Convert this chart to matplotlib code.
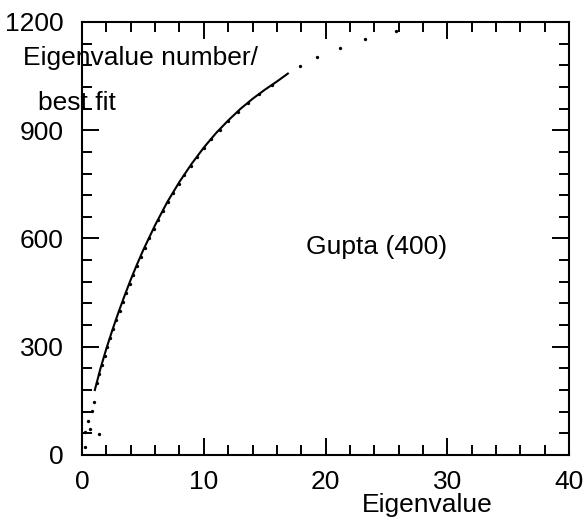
import matplotlib
matplotlib.use("Agg")
from matplotlib import pyplot as plt
from matplotlib.ticker import MultipleLocator

plt.rcParams['font.family'] = ['Liberation Sans', 'DejaVu Sans']

# best fit line
fit_x = [1.05, 1.5, 2, 2.5, 3, 3.5, 4, 4.5, 5, 6, 7, 8, 9, 10, 11, 12, 13, 14, 15, 16, 16.9]
fit_y = [180, 238, 295, 347, 396, 442, 486, 527, 566, 637, 701, 757, 807, 852, 892, 927, 959, 987, 1012, 1035, 1057]

# eigenvalue number (dots)
eig_x = [0.25, 0.25, 0.66, 1.43, 0.52, 0.8, 0.99,
         1.19, 1.41, 1.63, 1.86, 2.09, 2.33, 2.57, 2.82, 3.08, 3.35, 3.63, 3.92,
         4.22, 4.53, 4.85, 5.18, 5.52, 5.88, 6.25, 6.64, 7.05, 7.48, 7.93,
         8.41, 8.92, 9.45, 10.02, 10.63, 11.29, 12.0, 12.77, 13.63, 14.57,
         15.63, 17.9, 19.3, 21.2, 23.2, 25.8]
eig_y = [22, 64, 73, 57, 95, 122, 148,
         200, 225, 250, 275, 300, 325, 350, 375, 400, 425, 450, 475,
         500, 525, 550, 575, 600, 625, 650, 675, 700, 725, 750,
         775, 800, 825, 850, 875, 900, 925, 950, 975, 1000,
         1025, 1078, 1104, 1127, 1153, 1176]

x_ticks = [0, 10, 20, 30, 40]
y_ticks = [0, 300, 600, 900, 1200]

fig = plt.figure(figsize=(5.88, 5.21), dpi=100)
ax = fig.add_axes([0.1395, 0.1267, 0.8285, 0.8311])

ax.plot(fit_x, fit_y, color='black', lw=1.5)
ax.plot(eig_x, eig_y, 'o', color='black', ms=2.4, mew=0)

ax.set_xlim(0, 40)
ax.set_ylim(0, 1200)
ax.set_xticks(x_ticks)
ax.set_yticks(y_ticks)
ax.xaxis.set_minor_locator(MultipleLocator(2))
ax.yaxis.set_minor_locator(MultipleLocator(60))
ax.tick_params(which='both', direction='in', top=True, right=True, width=1.4, labelsize=19)
ax.tick_params(axis='x', which='major', length=12, pad=11)
ax.tick_params(axis='y', which='major', length=12, pad=13)
ax.tick_params(which='minor', length=7)
for s in ax.spines.values():
    s.set_linewidth(1.5)

ax.set_xlabel('Eigenvalue', fontsize=19)
ax.xaxis.set_label_coords(0.708, -0.115)
ax.xaxis.label.set_va('center')

fig.text(23 / 588, 1 - 58 / 521, 'Eigenvalue number/', fontsize=19, ha='left', va='center')
fig.text(38 / 588, 1 - 103 / 521, 'best fit', fontsize=19, ha='left', va='center')

ax.text(18.4, 577, 'Gupta (400)', fontsize=19, ha='left', va='center')

fig.savefig('out.png', dpi=100)
